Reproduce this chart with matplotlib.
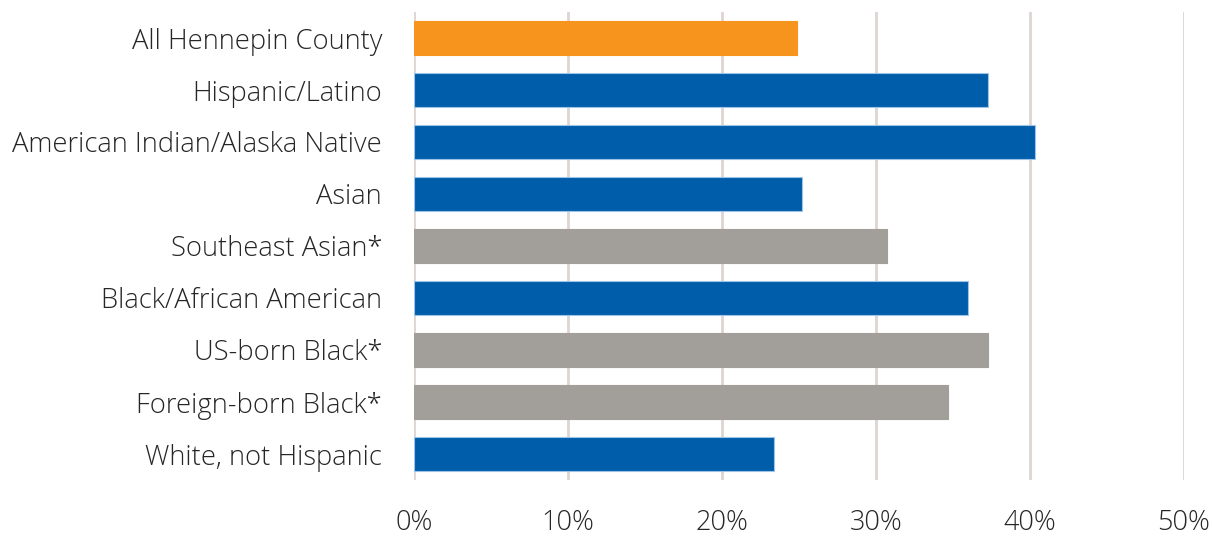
import matplotlib
matplotlib.use("Agg")
import matplotlib.pyplot as plt

categories = ["All Hennepin County", "Hispanic/Latino", "American Indian/Alaska Native",
              "Asian", "Southeast Asian*", "Black/African American", "US-born Black*",
              "Foreign-born Black*", "White, not Hispanic"]
values = [24.9, 37.3, 40.3, 25.2, 30.7, 36.0, 37.3, 34.7, 23.4]
groups = ["total", "main", "main", "main", "sub", "main", "sub", "sub", "main"]
xticks = [0, 10, 20, 30, 40, 50]
xticklabels = ["0%", "10%", "20%", "30%", "40%", "50%"]

color_map = {"total": "#F7941E", "main": "#005DAA", "sub": "#A29F9A"}
edge_map = {"total": "#F7941E", "main": "#9DC3E6", "sub": "#A29F9A"}

plt.rcParams['font.family'] = ['Open Sans', 'DejaVu Sans']

fig = plt.figure(figsize=(12.12, 5.37), dpi=100)
ax = fig.add_axes([414/1212, (537-480)/537, (1184-414)/1212, (480-12)/537])

ypos = list(range(len(categories)))
ax.barh(ypos, values, height=0.65,
        color=[color_map[g] for g in groups],
        edgecolor=[edge_map[g] for g in groups], linewidth=0.8, zorder=3)

ax.set_xlim(0, 50)
ax.set_ylim(len(categories) - 0.5, -0.5)
ax.set_xticks(xticks)
ax.set_xticklabels(xticklabels, fontsize=19.5, color="#262626", fontweight="light")
ax.set_yticks(ypos)
ax.set_yticklabels(categories, fontsize=19.7, color="#262626", fontweight="light")
ax.tick_params(axis="both", length=0)
ax.tick_params(axis="x", pad=21)
ax.tick_params(axis="y", pad=23)
ax.grid(axis="x", color="#DED5D0", linewidth=2, zorder=0)
for s in ax.spines.values():
    s.set_visible(False)

fig.savefig("out.png", dpi=100, facecolor="white")
